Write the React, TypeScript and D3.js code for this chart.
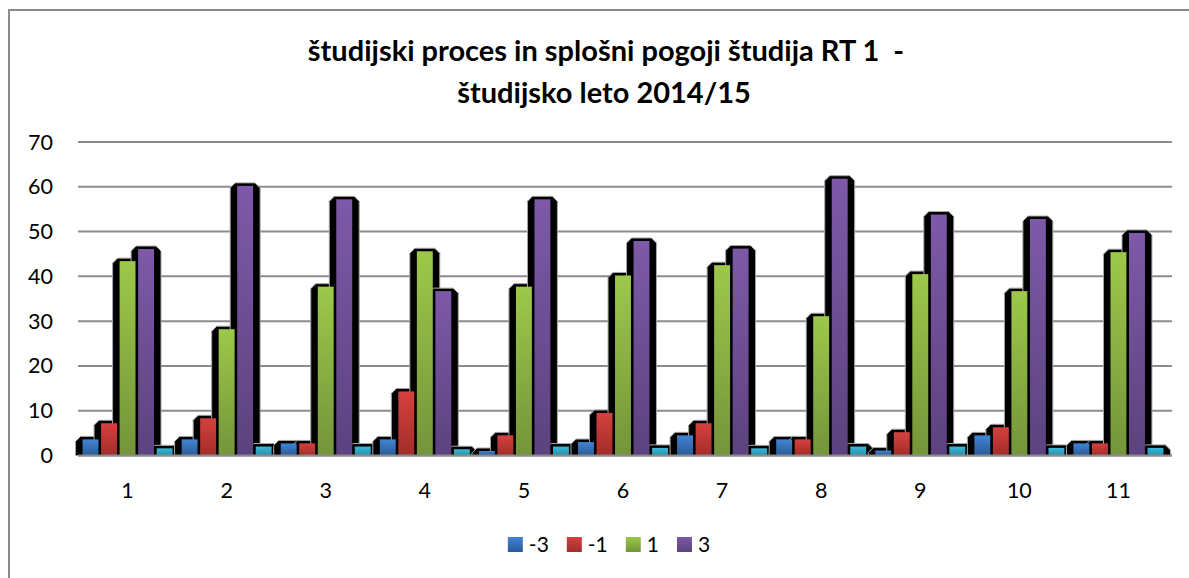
import React, { useRef, useEffect } from 'react'
import * as d3 from 'd3'

const titleLines = ['študijski proces in splošni pogoji študija RT 1  -', 'študijsko leto 2014/15']
const categories = ['1', '2', '3', '4', '5', '6', '7', '8', '9', '10', '11']
const legendLabels = ['-3', '-1', '1', '3']
const minus3 = [3.6, 3.6, 2.7, 3.6, 1.0, 3.0, 4.5, 3.6, 1.1, 4.5, 2.7]
const minus1 = [7.2, 8.3, 2.7, 14.3, 4.5, 9.5, 7.2, 3.6, 5.2, 6.3, 2.7]
const plus1 = [43.4, 28.2, 37.7, 45.6, 37.7, 40.2, 42.5, 31.1, 40.5, 36.7, 45.4]
const plus3 = [46.1, 60.2, 57.2, 36.7, 57.2, 47.9, 46.2, 61.8, 53.8, 52.8, 49.7]
const other = [1.6, 2.0, 2.0, 1.4, 2.0, 1.7, 1.6, 2.0, 2.0, 1.7, 1.7]
const yTicks = [0, 10, 20, 30, 40, 50, 60, 70]

const App = () => {
  const svgRef = useRef<SVGSVGElement>(null)

  useEffect(() => {
    document.body.style.margin = '0'
    if (!svgRef.current) return
    const svg = d3.select(svgRef.current)
    svg.selectAll('*').remove()

    const width = 1189
    const height = 578
    const margin = { top: 142, right: 21, bottom: 122.5, left: 78 }
    const font = 'Lato, "Open Sans", sans-serif'

    const series = [
      { key: 's0', values: minus3, top: '#4284d3', bottom: '#2a5a96' },
      { key: 's1', values: minus1, top: '#d5413d', bottom: '#a12d2a' },
      { key: 's2', values: plus1, top: '#9dc84a', bottom: '#74943a' },
      { key: 's3', values: plus3, top: '#7d59a8', bottom: '#5c427e' },
      { key: 's4', values: other, top: '#38b8d8', bottom: '#2890ab' },
    ]

    const defs = svg.append('defs')
    series.forEach(s => {
      const g = defs.append('linearGradient')
        .attr('id', 'grad-' + s.key)
        .attr('x1', 0).attr('y1', 0).attr('x2', 0).attr('y2', 1)
      g.append('stop').attr('offset', '0%').attr('stop-color', s.top)
      g.append('stop').attr('offset', '100%').attr('stop-color', s.bottom)
    })

    // outer frame
    svg.append('rect')
      .attr('x', 9).attr('y', 10)
      .attr('width', width + 20).attr('height', height + 20)
      .attr('fill', 'white')
      .attr('stroke', '#8c8c8c')
      .attr('stroke-width', 2)

    const x0 = d3.scaleBand().domain(categories).range([margin.left, width - margin.right])
    const groupW = 90
    const x1 = d3.scaleBand().domain(series.map(s => s.key)).range([0, groupW]).paddingInner(0.14)
    const y = d3.scaleLinear().domain([0, 70]).range([height - margin.bottom, margin.top])
    const base = y(0)

    // title
    const title = svg.append('text')
      .attr('text-anchor', 'middle')
      .attr('font-family', font)
      .attr('font-weight', 'bold')
      .attr('font-size', 29)
      .attr('fill', '#000')
    title.append('tspan').attr('x', 606).attr('y', 61).attr('xml:space', 'preserve').text(titleLines[0])
    title.append('tspan').attr('x', 604).attr('y', 103).text(titleLines[1])

    // gridlines
    svg.append('g')
      .selectAll('line')
      .data(yTicks)
      .join('line')
      .attr('x1', margin.left)
      .attr('x2', width - margin.right + 4)
      .attr('y1', d => y(d))
      .attr('y2', d => y(d))
      .attr('stroke', '#8c8c8c')
      .attr('stroke-width', 2)

    // y labels
    svg.append('g')
      .selectAll('text')
      .data(yTicks)
      .join('text')
      .attr('x', 53)
      .attr('y', d => y(d))
      .attr('dy', '0.35em')
      .attr('text-anchor', 'end')
      .attr('font-family', font)
      .attr('font-size', 21.5)
      .attr('fill', '#000')
      .text(d => String(d))

    const bars: { x: number; w: number; t: number; key: string }[] = []
    categories.forEach((c, i) => {
      const gx = (x0(c) as number) + x0.bandwidth() / 2 - groupW / 2
      series.forEach(s => {
        bars.push({ x: gx + (x1(s.key) as number), w: x1.bandwidth(), t: y(s.values[i]), key: s.key })
      })
    })

    // 3d-ish black backing behind bars
    const pad = 7, up = 3, bev = 5
    svg.append('g')
      .selectAll('path')
      .data(bars)
      .join('path')
      .attr('d', b => {
        const l = b.x - pad, r = b.x + b.w + pad, t = b.t - up
        return `M${l},${base}L${l},${t + bev}L${l + bev},${t}L${r - bev},${t}L${r},${t + bev}L${r},${base}Z`
      })
      .attr('fill', '#000')
      .attr('stroke', '#a6a6a6')
      .attr('stroke-width', 1)

    svg.append('g')
      .selectAll('rect')
      .data(bars)
      .join('rect')
      .attr('x', b => b.x)
      .attr('y', b => b.t)
      .attr('width', b => b.w)
      .attr('height', b => base - b.t)
      .attr('fill', b => `url(#grad-${b.key})`)

    // axis line
    svg.append('line')
      .attr('x1', margin.left).attr('x2', width - margin.right + 4)
      .attr('y1', base).attr('y2', base)
      .attr('stroke', '#8c8c8c').attr('stroke-width', 2)

    // category labels
    svg.append('g')
      .selectAll('text')
      .data(categories)
      .join('text')
      .attr('x', d => (x0(d) as number) + x0.bandwidth() / 2)
      .attr('y', 490)
      .attr('dy', '0.35em')
      .attr('text-anchor', 'middle')
      .attr('font-family', font)
      .attr('font-size', 21.5)
      .attr('fill', '#000')
      .text(d => d)

    // legend
    const legend = svg.append('g')
    const items = legend.selectAll('g').data(legendLabels).join('g')
    items.append('rect')
      .attr('width', 15).attr('height', 15)
      .attr('y', -8)
      .attr('fill', (_, i) => `url(#grad-${series[i].key})`)
    items.append('text')
      .attr('x', 21)
      .attr('dy', '0.35em')
      .attr('font-family', font)
      .attr('font-size', 21)
      .attr('fill', '#000')
      .text(d => d)
    let cx = 0
    const offsets: number[] = []
    items.each(function () {
      offsets.push(cx)
      const t = d3.select(this).select('text').node() as SVGTextElement
      cx += 21 + t.getComputedTextLength() + 18
    })
    const totalW = cx - 18
    const startX = 609 - totalW / 2
    items.attr('transform', (_, i) => `translate(${startX + offsets[i]},${545})`)
  }, [])

  return <svg ref={svgRef} width={1189} height={578} style={{ display: 'block' }} />
}

export default App
